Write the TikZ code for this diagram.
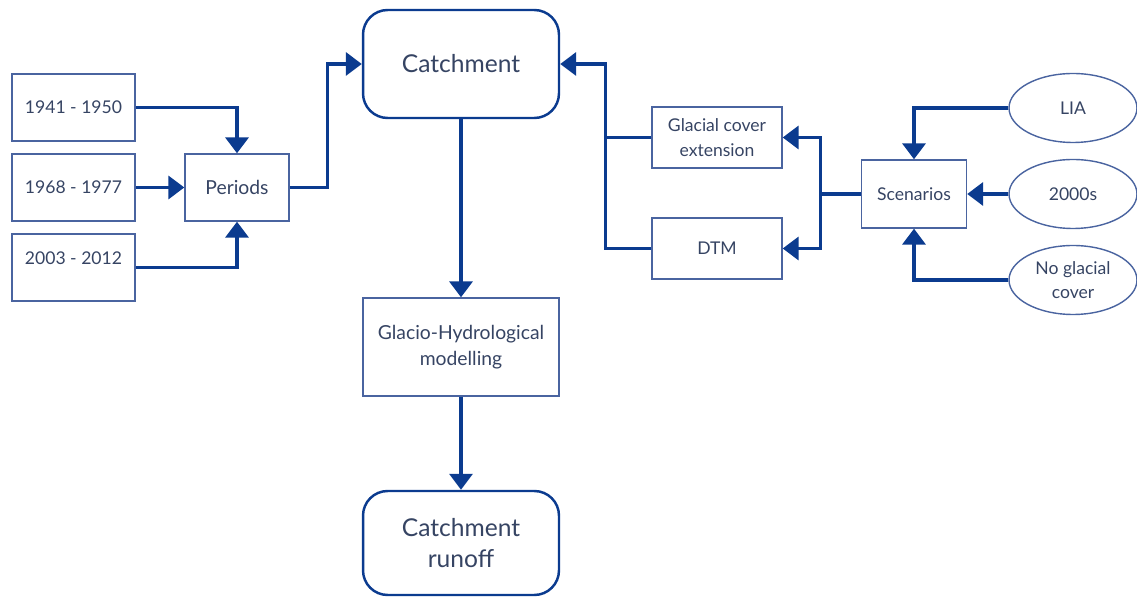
\documentclass[tikz,border=0pt]{standalone}
\usepackage{fontspec}
\setmainfont{Lato}
\usetikzlibrary{arrows.meta}
\usetikzlibrary{shapes.geometric}
\definecolor{flowblue}{HTML}{0B3B8F}
\definecolor{boxblue}{HTML}{4A64A0}
\definecolor{txtgray}{HTML}{364463}
\begin{document}
\begin{tikzpicture}[x=0.02cm, y=-0.02cm, line join=miter,
  box/.style={draw=boxblue, line width=0.8pt, text=txtgray, inner sep=0pt, align=center, font=\fontsize{10}{14}\selectfont},
  midbox/.style={box, font=\fontsize{11}{15}\selectfont},
  mainbox/.style={draw=flowblue, line width=1.4pt, rounded corners=14pt, text=txtgray, inner sep=0pt, align=center, minimum width=3.92cm, font=\fontsize{14}{18}\selectfont},
  oval/.style={box, ellipse, minimum width=2.56cm, minimum height=1.38cm},
  wire/.style={draw=flowblue, line width=1.8pt},
  flow/.style={wire, -{Triangle[width=13pt,length=9pt]}}]
  \useasboundingbox (0,0) rectangle (1137,597);
  % left: periods
  \node[box, minimum width=2.46cm, minimum height=1.34cm] (y1) at (73.5,107.5) {1941 - 1950};
  \node[box, minimum width=2.46cm, minimum height=1.34cm] (y2) at (73.5,187.5) {1968 - 1977};
  \node[box, minimum width=2.46cm, minimum height=1.34cm, text depth=0.38cm] (y3) at (73.5,267.5) {2003 - 2012};
  \node[midbox, minimum width=2.08cm, minimum height=1.34cm] (per) at (237,187.5) {Periods};
  % centre column
  \node[mainbox, minimum height=2.16cm] (catch) at (461,64) {Catchment};
  \node[midbox, minimum width=3.92cm, minimum height=1.96cm] (glacio) at (461,347) {Glacio-Hydrological\\modelling};
  \node[mainbox, minimum height=2.08cm] (runoff) at (461,543) {Catchment\\runoff};
  % right: scenarios
  \node[box, minimum width=2.6cm, minimum height=1.22cm] (glac) at (717,137.5) {Glacial cover\\extension};
  \node[box, minimum width=2.6cm, minimum height=1.22cm] (dtm) at (717,248.5) {DTM};
  \node[box, minimum width=2.1cm, minimum height=1.36cm] (scen) at (914,194) {Scenarios};
  \node[oval] (lia) at (1073,108) {LIA};
  \node[oval] (k2000) at (1073,194) {2000s};
  \node[oval] (nogl) at (1073,280) {No glacial\\cover};
  % connectors
  \draw[flow] (y1.east) -| (per.north);
  \draw[flow] (y2.east) -- (per.west);
  \draw[flow] (y3.east) -| (per.south);
  \draw[flow] (per.east) -- ++(38,0) |- (catch.west);
  \draw[flow] (catch.south) -- (glacio.north);
  \draw[flow] (glacio.south) -- (runoff.north);
  \draw[flow] (glac.west) -- ++(-46,0) |- (catch.east);
  \draw[wire] (dtm.west) -- ++(-46,0) |- (glac.west);
  \draw[flow] (scen.west) -- ++(-40,0) |- (glac.east);
  \draw[flow] (scen.west) -- ++(-40,0) |- (dtm.east);
  \draw[flow] (lia.west) -| (scen.north);
  \draw[flow] (k2000.west) -- (scen.east);
  \draw[flow] (nogl.west) -| (scen.south);
\end{tikzpicture}
\end{document}
